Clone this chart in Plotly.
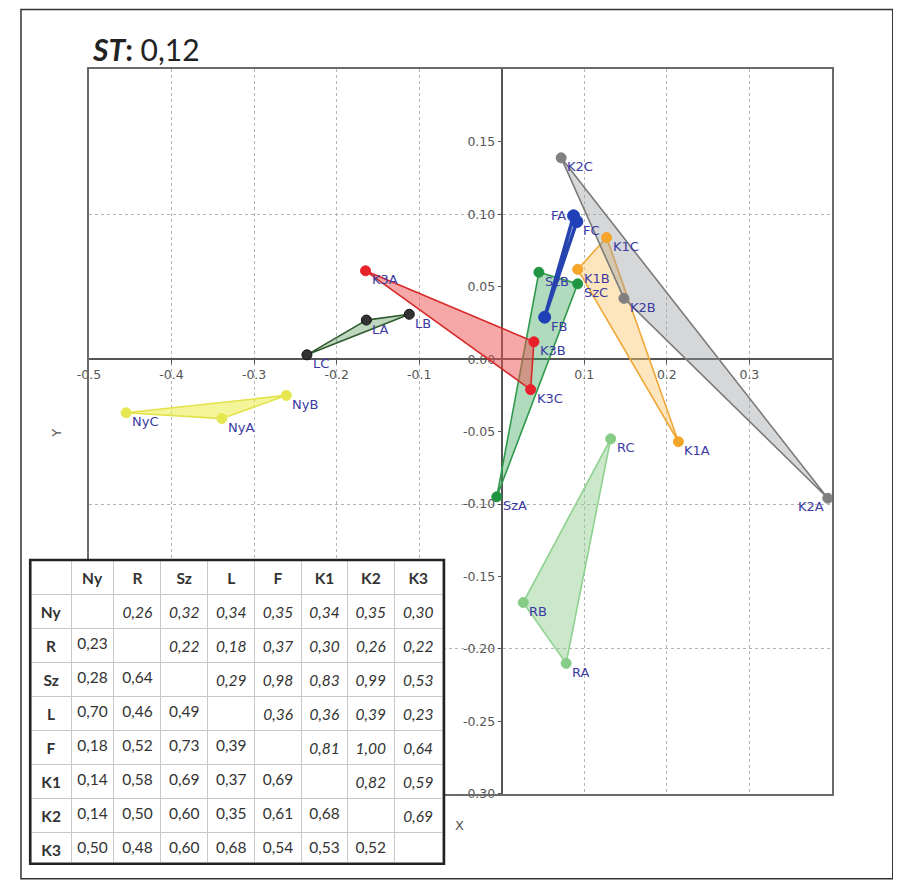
import plotly.graph_objects as go

# ---- ordination scores (samples A, B, C of each site) ----
ny_x = [-0.339, -0.261, -0.455]
ny_y = [-0.041, -0.025, -0.037]
l_x = [-0.164, -0.112, -0.236]
l_y = [0.027, 0.031, 0.003]
k3_x = [-0.165, 0.039, 0.035]
k3_y = [0.061, 0.012, -0.021]
sz_x = [-0.006, 0.045, 0.092]
sz_y = [-0.095, 0.060, 0.052]
f_x = [0.087, 0.052, 0.091]
f_y = [0.099, 0.029, 0.095]
k1_x = [0.214, 0.092, 0.127]
k1_y = [-0.057, 0.062, 0.084]
k2_x = [0.395, 0.148, 0.072]
k2_y = [-0.096, 0.042, 0.139]
r_x = [0.078, 0.026, 0.132]
r_y = [-0.210, -0.168, -0.055]

samples = ["A", "B", "C"]

x_ticks = [-0.5, -0.4, -0.3, -0.2, -0.1, 0.1, 0.2, 0.3]
y_ticks = [-0.30, -0.25, -0.20, -0.15, -0.10, -0.05, 0.00, 0.05, 0.10, 0.15]

st_value = 0.12

# similarity matrix (lower triangle plain, upper triangle italic)
mat_names = ["Ny", "R", "Sz", "L", "F", "K1", "K2", "K3"]
mat_rows = [
    [None, 0.26, 0.32, 0.34, 0.35, 0.34, 0.35, 0.30],
    [0.23, None, 0.22, 0.18, 0.37, 0.30, 0.26, 0.22],
    [0.28, 0.64, None, 0.29, 0.98, 0.83, 0.99, 0.53],
    [0.70, 0.46, 0.49, None, 0.36, 0.36, 0.39, 0.23],
    [0.18, 0.52, 0.73, 0.39, None, 0.81, 1.00, 0.64],
    [0.14, 0.58, 0.69, 0.37, 0.69, None, 0.82, 0.59],
    [0.14, 0.50, 0.60, 0.35, 0.61, 0.68, None, 0.69],
    [0.50, 0.48, 0.60, 0.68, 0.54, 0.53, 0.52, None],
]

# name, x, y, line colour, fill colour, marker colour
groups = [
    ("Ny", ny_x, ny_y, "#e2e24a", "rgba(235,235,70,0.55)", "#e6e64e"),
    ("R", r_x, r_y, "#8fd18f", "rgba(140,205,140,0.45)", "#86cc86"),
    ("Sz", sz_x, sz_y, "#2f9a4c", "rgba(60,165,90,0.40)", "#1f9443"),
    ("K3", k3_x, k3_y, "#d62a2a", "rgba(238,80,80,0.50)", "#e8202a"),
    ("L", l_x, l_y, "#2f5a2f", "rgba(70,140,70,0.35)", "#333333"),
    ("K1", k1_x, k1_y, "#f0a838", "rgba(250,200,110,0.45)", "#f5a52a"),
    ("K2", k2_x, k2_y, "#7a7a7a", "rgba(150,155,160,0.40)", "#808080"),
    ("F", f_x, f_y, "#2644b0", "rgba(40,70,180,0.4)", "#2040b8"),
]

# labels that sit left of their point instead of below-right
left_labels = {"K2A": (-2, -8), "FA": (-6, 0)}

# page offset / calibration of the screenshot (target pixel -> figure pixel)
OX, OY = 8, 8
FW, FH = 901 - OX, 880 - OY


def px(x):
    return ((x - 10.9) / 0.9893 - OX) / FW


def py(y):
    return 1 - ((y + 1.5) / 0.993 - OY) / FH


xdom = [px(88), px(833)]
ydom = [py(793), py(68)]
x_rng = [-0.5, 0.4]
y_rng = [-0.3, 0.2]
x_axis_pos = ydom[0] + (0 - y_rng[0]) / (y_rng[1] - y_rng[0]) * (ydom[1] - ydom[0])
y_axis_pos = xdom[0] + (0 - x_rng[0]) / (x_rng[1] - x_rng[0]) * (xdom[1] - xdom[0])

fig = go.Figure()

for name, xs, ys, lc, fc, mc in groups:
    fig.add_trace(go.Scatter(
        x=xs + xs[:1], y=ys + ys[:1],
        mode="lines", fill="toself", fillcolor=fc,
        line=dict(color=lc, width=3.5 if name == "F" else 1.6),
        hoverinfo="skip",
    ))

annotations = []
for name, xs, ys, lc, fc, mc in groups:
    texts = [name + s for s in samples]
    fig.add_trace(go.Scatter(
        x=xs, y=ys, xaxis="x2", yaxis="y2",
        mode="markers",
        marker=dict(size=12 if name == "F" else 10, color=mc,
                    line=dict(color="#111111" if name == "L" else mc, width=1)),
    ))
    for t, xv, yv in zip(texts, xs, ys):
        dx, dy = left_labels.get(t, (4, -9))
        annotations.append(dict(
            x=xv, y=yv, xref="x", yref="y", text=t, showarrow=False,
            xanchor="right" if t in left_labels else "left", yanchor="middle",
            xshift=dx, yshift=dy,
            font=dict(family="DejaVu Sans", size=13, color="#3a3aa4"),
        ))


def fmt(v):
    return "" if v is None else f"{v:.2f}".replace(".", ",")


columns = [["<b>%s</b>" % n for n in mat_names]]
for j in range(len(mat_names)):
    col = []
    for i in range(len(mat_names)):
        s = fmt(mat_rows[i][j])
        if s and j > i:
            s = "<i>%s</i>" % s
        col.append(s)
    columns.append(col)

tbl_x = [px(30), px(443)]
tbl_y = [py(862), py(560)]
row_h = (tbl_y[1] - tbl_y[0]) * FH / 9 - 0.2
fig.add_trace(go.Table(
    domain=dict(x=tbl_x, y=tbl_y),
    columnwidth=[40, 43, 47, 47, 47, 47, 46, 47, 48],
    header=dict(
        values=[""] + ["<b>%s</b>" % n for n in mat_names],
        fill_color="white", line=dict(color="#c8c8c8", width=1),
        font=dict(family="Lato", size=15.5, color="#333333"),
        align="center", height=row_h,
    ),
    cells=dict(
        values=columns,
        fill_color="white", line=dict(color="#c8c8c8", width=1),
        font=dict(family="Lato", size=15.5, color="#333333"),
        align="center", height=row_h,
    ),
))

axis_common = dict(
    dtick=0.1, tick0=0, showgrid=True, gridcolor="#b4b4b4",
    griddash="dot", gridwidth=1, zeroline=True, zerolinecolor="#555555",
    zerolinewidth=1.6, showline=True, mirror=True, linecolor="#6a6a6a",
    linewidth=1.6, showticklabels=False, ticks="",
)
tick_font = dict(family="DejaVu Sans", size=12.5, color="#555555")

annotations += [
    dict(x=px(89), y=py(47), xref="paper", yref="paper",
         xanchor="left", yanchor="middle", showarrow=False,
         text="<b><i>ST</i>:</b> " + f"{st_value:.2f}".replace(".", ","),
         font=dict(family="Lato", size=30, color="#222222")),
    dict(x=px(460), y=py(834), xref="paper", yref="paper",
         showarrow=False, text="X",
         font=dict(family="DejaVu Sans", size=13, color="#555555")),
    dict(x=px(46), y=py(432), xref="paper", yref="paper",
         showarrow=False, text="Y", textangle=-90,
         font=dict(family="DejaVu Sans", size=13, color="#555555")),
]

fig.update_layout(
    width=FW, height=FH,
    margin=dict(l=0, r=0, t=0, b=0),
    paper_bgcolor="white", plot_bgcolor="white",
    showlegend=False,
    xaxis={**axis_common, "domain": xdom, "range": x_rng},
    yaxis={**axis_common, "domain": ydom, "range": y_rng},
    xaxis2=dict(
        overlaying="x", anchor="free", position=x_axis_pos, range=x_rng,
        tickvals=x_ticks, ticktext=[f"{v:.1f}" for v in x_ticks],
        showgrid=False, zeroline=False, showline=False,
        ticks="outside", ticklen=4, tickcolor="#555555", tickfont=tick_font,
        layer="below traces",
    ),
    yaxis2=dict(
        overlaying="y", anchor="free", position=y_axis_pos, range=y_rng,
        tickvals=y_ticks, ticktext=[f"{v:.2f}" for v in y_ticks],
        showgrid=False, zeroline=False, showline=False,
        ticks="outside", ticklen=4, tickcolor="#555555", tickfont=tick_font,
        layer="below traces",
    ),
    annotations=annotations,
    shapes=[
        dict(type="rect", xref="paper", yref="paper",
             x0=max(px(6), 1 / FW), x1=px(894), y0=py(878), y1=py(8),
             line=dict(color="#333333", width=1.5)),
        dict(type="rect", xref="paper", yref="paper", layer="above",
             x0=tbl_x[0] - 1 / FW, x1=tbl_x[1] + 1 / FW,
             y0=tbl_y[0] - 1 / FH, y1=tbl_y[1] + 1 / FH,
             line=dict(color="#222222", width=2.5)),
    ],
)

fig.write_html("out.html")
